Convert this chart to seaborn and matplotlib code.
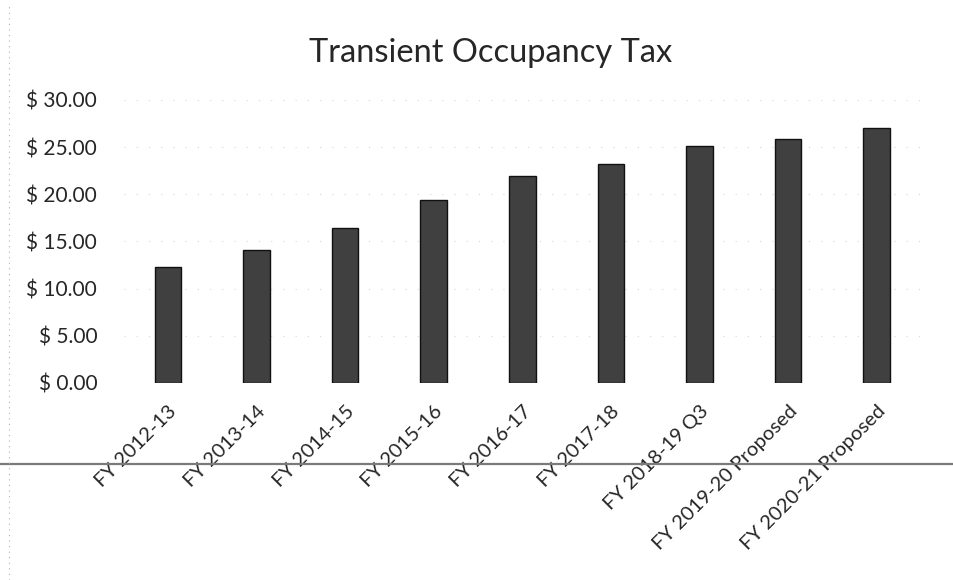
import matplotlib
matplotlib.use("Agg")
import matplotlib.pyplot as plt
import seaborn as sns
import pandas as pd
from matplotlib.lines import Line2D

# Datos
years = ["FY 2012-13", "FY 2013-14", "FY 2014-15", "FY 2015-16", "FY 2016-17",
         "FY 2017-18", "FY 2018-19 Q3", "FY 2019-20 Proposed", "FY 2020-21 Proposed"]
tax = [12.3, 14.1, 16.4, 19.4, 21.9, 23.2, 25.1, 25.9, 27.0]
y_ticks = [0, 5, 10, 15, 20, 25, 30]

df = pd.DataFrame({"year": years, "tax": tax})

sns.set_style("white")
plt.rcParams['font.family'] = ['Lato', 'DejaVu Sans']

fig = plt.figure(figsize=(9.54, 5.8), dpi=100)
ax = fig.add_axes([0.1296, 0.3397, 0.8358, 0.4879])

sns.barplot(data=df, x="year", y="tax", color="#404040", width=0.3,
            edgecolor="#111111", linewidth=1.0, saturation=1, ax=ax)

ax.set_ylim(0, 30)
ax.set_xlim(-0.5, len(years) - 0.5)
ax.set_yticks(y_ticks)
ax.set_yticklabels([f"$ {v:.2f}" for v in y_ticks], fontsize=15)
ax.set_xticks(range(len(years)))
ax.set_xticklabels(years, rotation=45, ha="right", rotation_mode="anchor", fontsize=14.5)
ax.tick_params(axis="y", length=0, pad=19)
ax.tick_params(axis="x", length=0, pad=14)
ax.set_xlabel("")
ax.set_ylabel("")

# rejilla casi invisible (puntos del escaneo)
ax.yaxis.grid(True, color="#d8d8d8", linestyle=(0, (1, 10)), linewidth=0.8)
ax.set_axisbelow(True)
for s in ax.spines.values():
    s.set_visible(False)

fig.text(0.514, 0.893, "Transient Occupancy Tax", ha="center", va="baseline", fontsize=23.5)

# líneas del borde escaneado
fig.add_artist(Line2D([0, 1], [0.2, 0.2], color="#7a7a7a", linewidth=1.6))
fig.add_artist(Line2D([0.009, 0.009], [0.0, 0.99], color="#b0b0b0", linewidth=0.8,
                      linestyle=(0, (1, 4))))

fig.savefig("out.png", dpi=100)
